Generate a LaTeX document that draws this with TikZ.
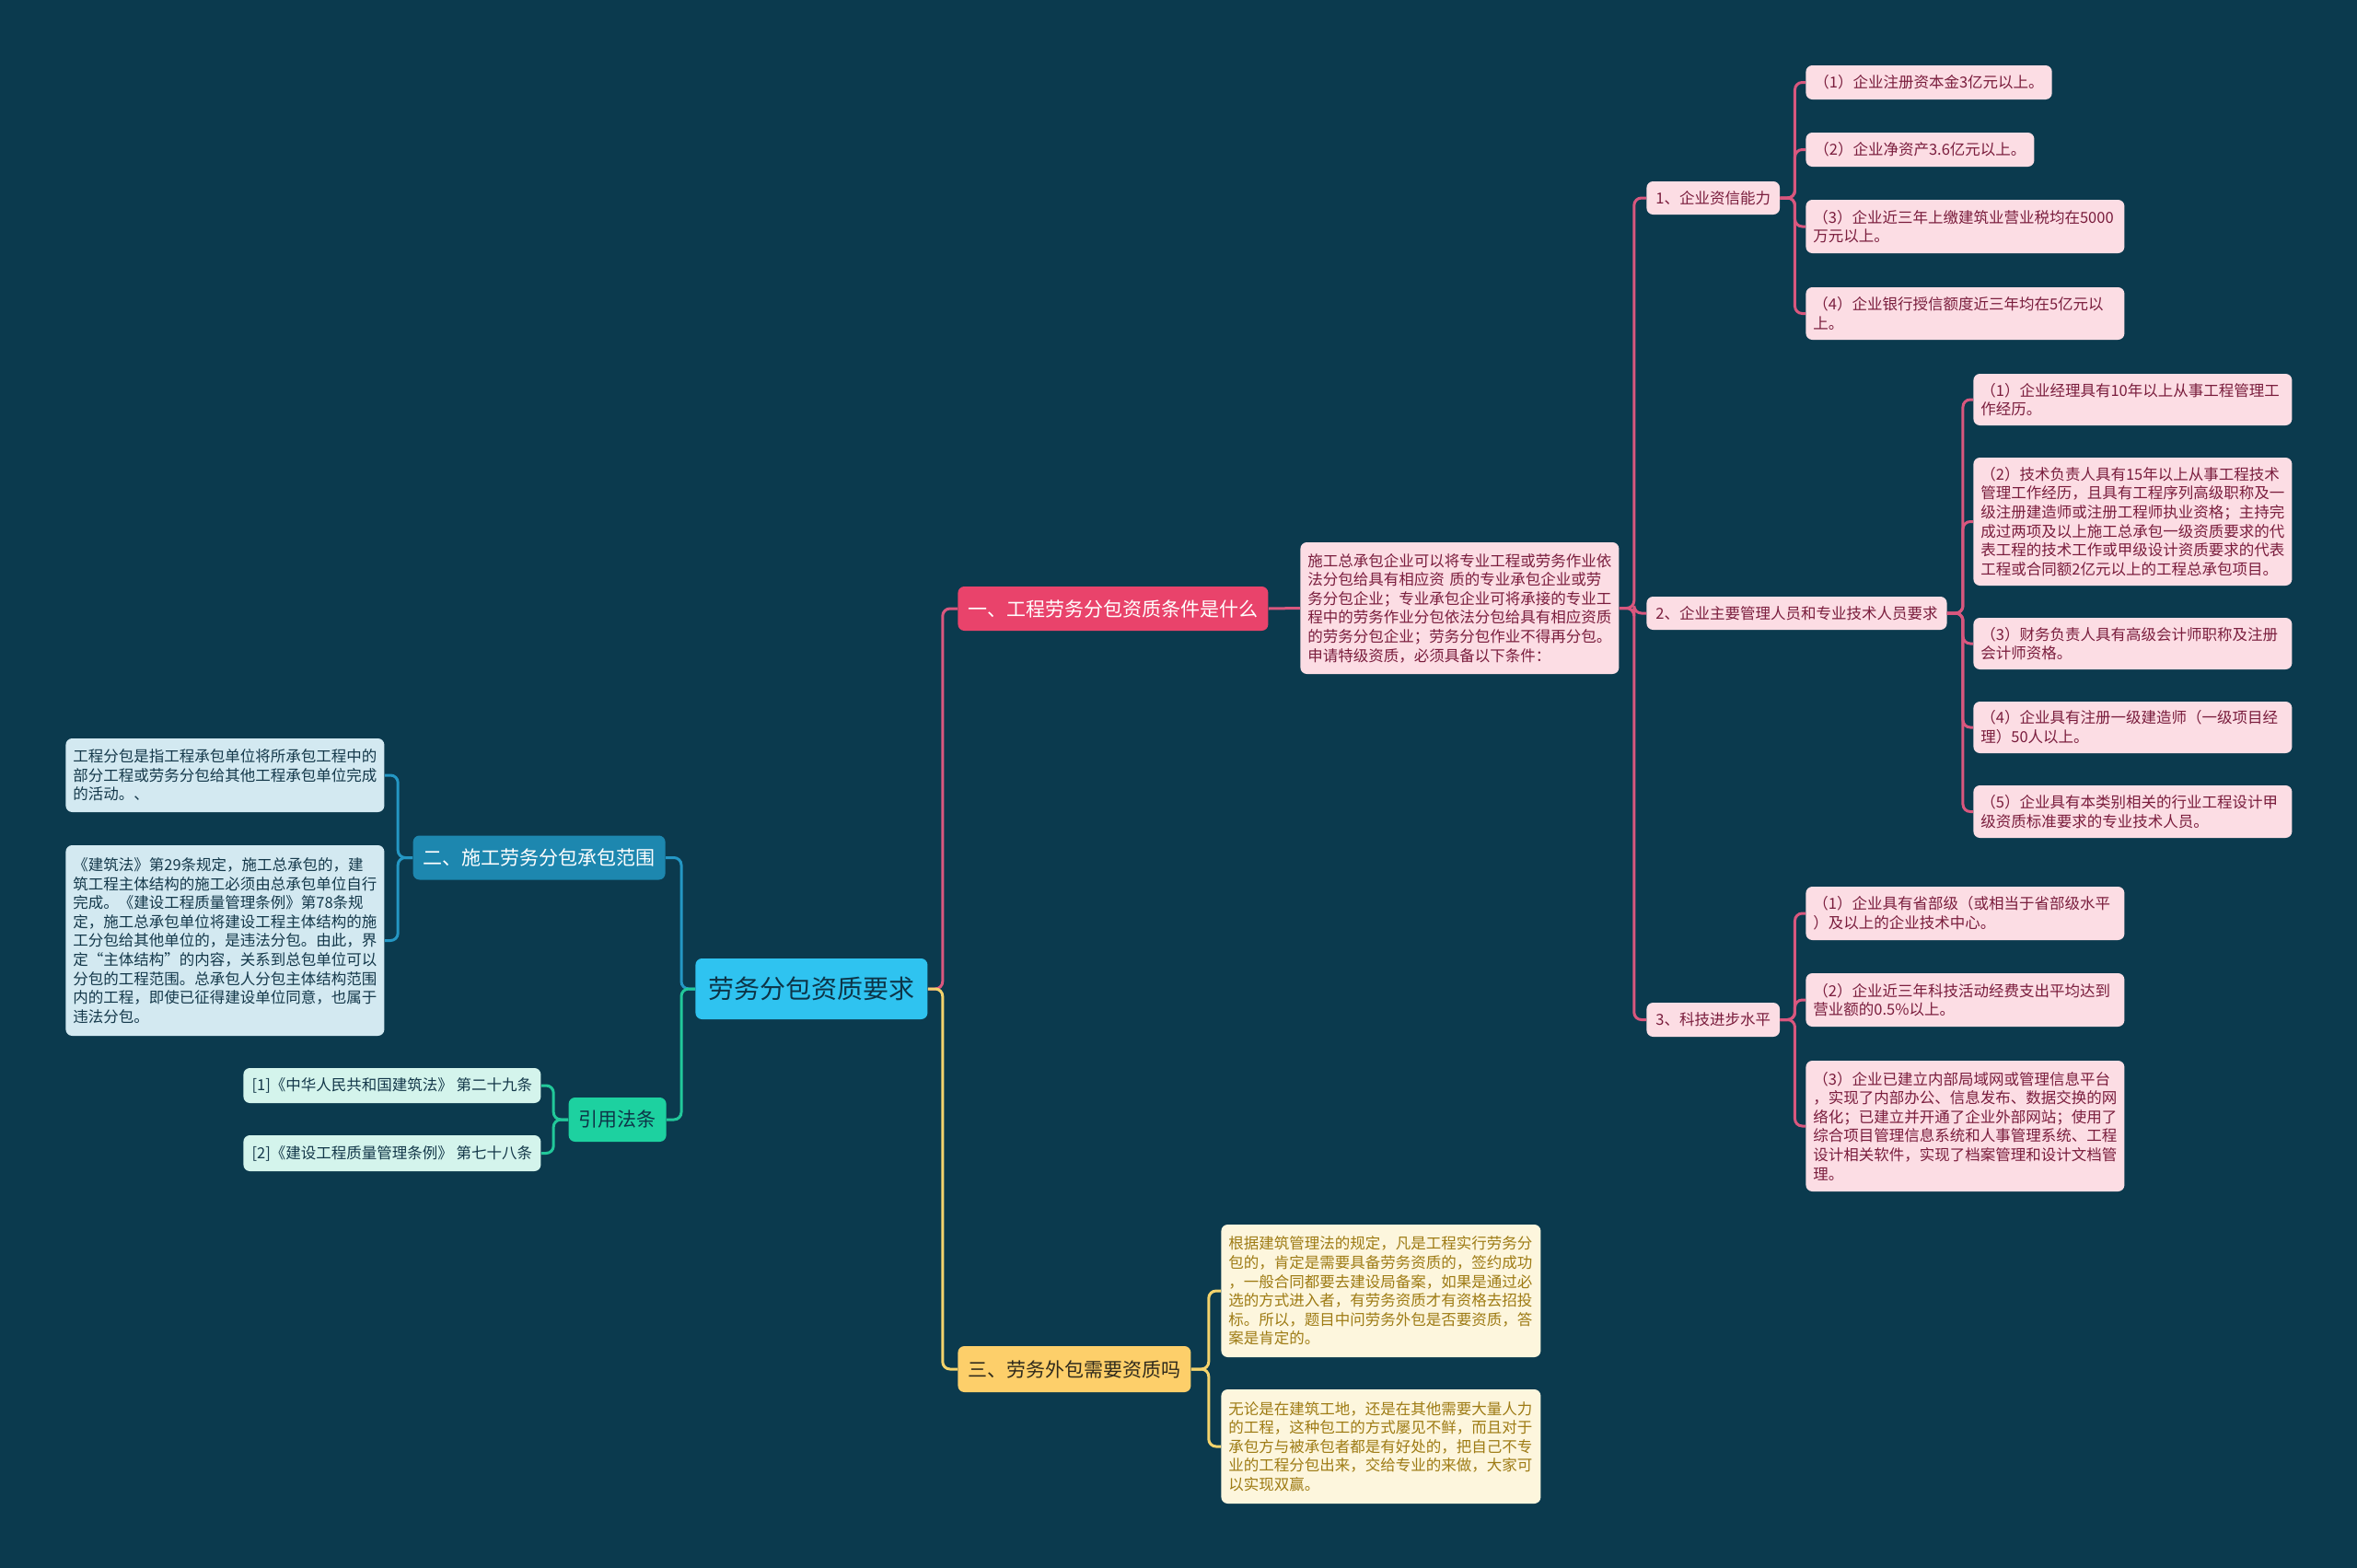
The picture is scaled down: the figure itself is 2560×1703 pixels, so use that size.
\documentclass[tikz,border=0pt]{standalone}
\usepackage{fontspec}
\setmainfont{Noto Sans CJK SC}
\definecolor{bg}{HTML}{0B3A4E}
\definecolor{pkline}{HTML}{D9577E}
\definecolor{pkfill}{HTML}{E9436B}
\definecolor{pkleaf}{HTML}{FCDDE4}
\definecolor{pktext}{HTML}{7A1D3D}
\definecolor{cfill}{HTML}{2FC3F0}
\definecolor{ctext}{HTML}{0D3447}
\definecolor{bfill}{HTML}{1D87AF}
\definecolor{bline}{HTML}{2497C4}
\definecolor{bleaf}{HTML}{D3E9F1}
\definecolor{btext}{HTML}{14384A}
\definecolor{gfill}{HTML}{1DD1A0}
\definecolor{gline}{HTML}{22C89A}
\definecolor{gleaf}{HTML}{D4F4EC}
\definecolor{yfill}{HTML}{FDCF6A}
\definecolor{yline}{HTML}{F4D36C}
\definecolor{yleaf}{HTML}{FDF6DD}
\definecolor{ytext}{HTML}{9E7B14}
\definecolor{ydark}{HTML}{2F2A1C}
\tikzset{
  box/.style={rounded corners=3.5pt, inner ysep=2pt, anchor=west},
  small/.style={font=\fontsize{8.25}{10.3}\selectfont, inner xsep=4pt},
  wide/.style={text width=165pt, align=left},
  pk/.style={box, small, fill=pkleaf, text=pktext},
  bl/.style={box, small, fill=bleaf, text=btext},
  gl/.style={box, small, fill=gleaf, text=btext},
  yl/.style={box, small, fill=yleaf, text=ytext},
  branch/.style={box, font=\fontsize{10.5}{12}\selectfont, inner xsep=5.5pt, minimum height=24pt},
  conn/.style={line width=1.5pt, rounded corners=4pt},
}
\begin{document}
\begin{tikzpicture}[x=0.5pt, y=-0.5pt]
\fill[bg] (0,0) rectangle (2560,1703);
\useasboundingbox (0,0) rectangle (2560,1703);

% central
\node[box, fill=cfill, text=ctext, font=\fontsize{14}{16}\selectfont, inner xsep=7pt, minimum height=33pt] (C) at (755,1074) {劳务分包资质要求};

% main branches
\node[branch, fill=pkfill, text=white] (B1) at (1040,661) {一、工程劳务分包资质条件是什么};
\node[branch, fill=bfill, text=white, anchor=east] (B2) at (723,931.5) {二、施工劳务分包承包范围};
\node[branch, fill=gfill, text=ctext, anchor=east] (G) at (724,1216) {引用法条};
\node[branch, fill=yfill, text=ydark, minimum height=25pt] (B3) at (1040,1487) {三、劳务外包需要资质吗};

% branch 1 text
\node[pk, wide, minimum height=71.5pt] (M) at (1412,660.5) {施工总承包企业可以将专业工程或劳务作业依\\法分包给具有相应资 质的专业承包企业或劳\\务分包企业；专业承包企业可将承接的专业工\\程中的劳务作业分包依法分包给具有相应资质\\的劳务分包企业；劳务分包作业不得再分包。\\申请特级资质，必须具备以下条件：};

% level 2
\node[pk, inner xsep=5pt, minimum height=18pt] (N1) at (1788,215) {1、企业资信能力};
\node[pk, inner xsep=5pt, minimum height=18pt] (N2) at (1788,666) {2、企业主要管理人员和专业技术人员要求};
\node[pk, inner xsep=5pt, minimum height=18.5pt] (N3) at (1788,1107.5) {3、科技进步水平};

% leaves of 1
\node[pk, inner xsep=4.5pt, minimum height=18.5pt] (L11) at (1961,89.5) {（1）企业注册资本金3亿元以上。};
\node[pk, inner xsep=4.5pt, minimum height=18.5pt] (L12) at (1961,162.5) {（2）企业净资产3.6亿元以上。};
\node[pk, wide, minimum height=29pt] (L13) at (1961,246) {（3）企业近三年上缴建筑业营业税均在5000\\万元以上。};
\node[pk, wide, minimum height=28.5pt] (L14) at (1961,340.5) {（4）企业银行授信额度近三年均在5亿元以\\上。};

% leaves of 2
\node[pk, wide, minimum height=28pt] (L21) at (2143,434) {（1）企业经理具有10年以上从事工程管理工\\作经历。};
\node[pk, wide, minimum height=69.5pt] (L22) at (2143,566.5) {（2）技术负责人具有15年以上从事工程技术\\管理工作经历，且具有工程序列高级职称及一\\级注册建造师或注册工程师执业资格；主持完\\成过两项及以上施工总承包一级资质要求的代\\表工程的技术工作或甲级设计资质要求的代表\\工程或合同额2亿元以上的工程总承包项目。};
\node[pk, wide, minimum height=28pt] (L23) at (2143,699) {（3）财务负责人具有高级会计师职称及注册\\会计师资格。};
\node[pk, wide, minimum height=28pt] (L24) at (2143,790) {（4）企业具有注册一级建造师（一级项目经\\理）50人以上。};
\node[pk, wide, minimum height=28.5pt] (L25) at (2143,881.5) {（5）企业具有本类别相关的行业工程设计甲\\级资质标准要求的专业技术人员。};

% leaves of 3
\node[pk, wide, minimum height=29pt] (L31) at (1961,992) {（1）企业具有省部级（或相当于省部级水平\\）及以上的企业技术中心。};
\node[pk, wide, minimum height=29pt] (L32) at (1961,1086) {（2）企业近三年科技活动经费支出平均达到\\营业额的0.5\%以上。};
\node[pk, wide, minimum height=71pt] (L33) at (1961,1223) {（3）企业已建立内部局域网或管理信息平台\\，实现了内部办公、信息发布、数据交换的网\\络化；已建立并开通了企业外部网站；使用了\\综合项目管理信息系统和人事管理系统、工程\\设计相关软件，实现了档案管理和设计文档管\\理。};

% branch 2 leaves
\node[bl, wide, minimum height=40pt] (K1) at (71,842) {工程分包是指工程承包单位将所承包工程中的\\部分工程或劳务分包给其他工程承包单位完成\\的活动。、};
\node[bl, wide, minimum height=103.5pt] (K2) at (71,1021.5) {《建筑法》第29条规定，施工总承包的，建\\筑工程主体结构的施工必须由总承包单位自行\\完成。《建设工程质量管理条例》第78条规\\定，施工总承包单位将建设工程主体结构的施\\工分包给其他单位的，是违法分包。由此，界\\定“主体结构”的内容，关系到总包单位可以\\分包的工程范围。总承包人分包主体结构范围\\内的工程，即使已征得建设单位同意，也属于\\违法分包。};

% references
\node[gl, minimum height=19pt, minimum width=161.5pt, align=left] (R1) at (264,1179) {[1]《中华人民共和国建筑法》 第二十九条};
\node[gl, minimum height=19.5pt, minimum width=161.5pt, align=left] (R2) at (264,1252.5) {[2]《建设工程质量管理条例》 第七十八条};

% branch 3 leaves
\node[yl, text width=165.5pt, align=left, minimum height=72pt] (Y1) at (1326,1402) {根据建筑管理法的规定，凡是工程实行劳务分\\包的，肯定是需要具备劳务资质的，签约成功\\，一般合同都要去建设局备案，如果是通过必\\选的方式进入者，有劳务资质才有资格去招投\\标。所以，题目中问劳务外包是否要资质，答\\案是肯定的。};
\node[yl, text width=165.5pt, align=left, minimum height=62pt] (Y2) at (1326,1571) {无论是在建筑工地，还是在其他需要大量人力\\的工程，这种包工的方式屡见不鲜，而且对于\\承包方与被承包者都是有好处的，把自己不专\\业的工程分包出来，交给专业的来做，大家可\\以实现双赢。};

% connectors
\draw[conn, pkline] (C.east) -- ++(16,0) |- (B1.west);
\draw[conn, yline] (C.east) -- ++(16,0) |- (B3.west);
\draw[conn, bline] (C.west) -- ++(-15,0) |- (B2.east);
\draw[conn, gline] (C.west) -- ++(-15,0) |- (G.east);

\draw[conn, pkline] (B1.east) -- (M.west);
\foreach \n in {N1,N2,N3} \draw[conn, pkline] (M.east) -- ++(16,0) |- (\n.west);
\foreach \n in {L11,L12,L13,L14} \draw[conn, pkline] (N1.east) -- ++(16,0) |- (\n.west);
\foreach \n in {L21,L22,L23,L24,L25} \draw[conn, pkline] (N2.east) -- ++(17,0) |- (\n.west);
\foreach \n in {L31,L32,L33} \draw[conn, pkline] (N3.east) -- ++(16,0) |- (\n.west);

\foreach \n in {K1,K2} \draw[conn, bline] (B2.west) -- ++(-16,0) |- (\n.east);
\foreach \n in {R1,R2} \draw[conn, gline] (G.west) -- ++(-16,0) |- (\n.east);
\foreach \n in {Y1,Y2} \draw[conn, yline] (B3.east) -- ++(19,0) |- (\n.west);
\end{tikzpicture}
\end{document}
